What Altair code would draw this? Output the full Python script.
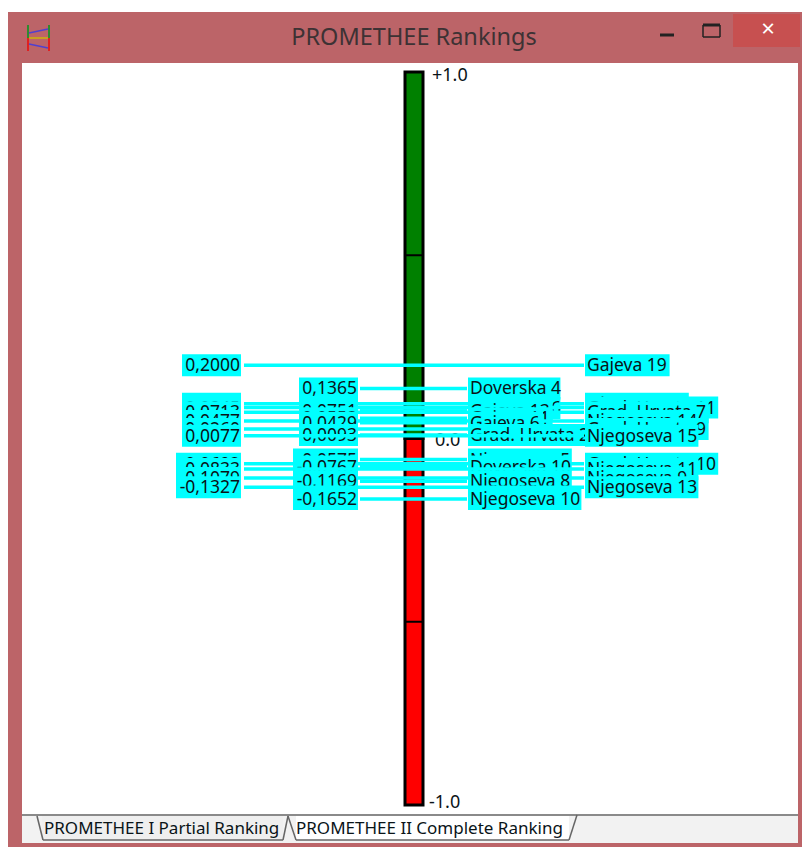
import altair as alt
import pandas as pd

names = ["Gajeva 19", "Doverska 4", "Njegoseva 1", "Doverska 6", "Grad. Hrvata 11", "Gajeva 13",
         "Grad. Hrvata 7", "Gajeva 11", "Njegoseva 14", "Gajeva 6", "Grad. Hrvata 9", "Grad. Hrvata 2",
         "Njegoseva 15", "Njegoseva 5", "Grad. Hrvata 10", "Doverska 10", "Njegoseva 11",
         "Njegoseva 9", "Njegoseva 8", "Njegoseva 13", "Njegoseva 10"]
values = [0.2000, 0.1365, 0.0945, 0.0832, 0.0845, 0.0751,
          0.0713, 0.0553, 0.0477, 0.0429, 0.0260, 0.0093,
          0.0077, -0.0575, -0.0692, -0.0767, -0.0833,
          -0.1079, -0.1169, -0.1327, -0.1652]
columns = ["outer", "inner", "outer", "inner", "outer", "inner",
           "outer", "inner", "outer", "inner", "outer", "inner",
           "outer", "inner", "outer", "inner", "outer",
           "outer", "inner", "outer", "inner"]
bar_top = [1.0, 0.0]
bar_bottom = [0.0, -1.0]
bar_colors = ["#008000", "#FF0000"]
bar_ticks = [0.5, -0.5]
scale_values = [1.0, 0.0, -1.0]
scale_texts = ["+1.0", "0.0", "-1.0"]

FRAME = "#BC6468"
CYAN = "#00FFFF"
INK = "#0A1418"
FONT = "Noto Sans"
one = alt.Data(values=[{"a": 1}])
Y = alt.Y("v:Q", scale=alt.Scale(domain=[-1, 1], range=[797, 64]), axis=None)


def px(x):
    return alt.value(x - 8)


def py(y):
    return alt.value(y - 8)


def box(x1, y1, x2, y2, color):
    return alt.Chart(one).mark_rect(color=color).encode(x=px(x1), x2=px(x2), y=py(y1), y2=py(y2))


def seg(x1, y1, x2, y2, color, w=1.5):
    return alt.Chart(one).mark_rule(color=color, strokeWidth=w).encode(x=px(x1), x2=px(x2), y=py(y1), y2=py(y2))


def label(text, x, y, size=17.5, color=INK, align="left", font=FONT):
    return alt.Chart(one).mark_text(text=text, fontSize=size, color=color, align=align,
                                    baseline="middle", font=font).encode(x=px(x), y=py(y))


def hrule(df, x1, x2, color, w):
    return alt.Chart(df).mark_rule(color=color, strokeWidth=w, strokeCap="butt").encode(
        x=px(x1), x2=px(x2), y=Y)


def text_width(name):
    return 9.6 * len(name) - 1.8 * sum(name.count(c) for c in ". rt")


layers = [
    box(8, 12, 802, 847, FRAME),
    box(733, 14, 800, 47, "#C75050"),
    box(22, 63, 798, 815, "#FFFFFF"),
    box(22, 815, 798, 843, "#F2F2F2"),
    # title bar
    label("PROMETHEE Rankings", 414, 38, size=23.5, color="#3D3234", align="center"),
    seg(660, 35, 674, 35, "#222222", 3),
    seg(703, 25, 720, 25, "#222222", 3),
    seg(703, 37, 720, 37, "#222222", 1.5),
    seg(703, 25, 703, 37, "#222222", 1.5),
    seg(720, 25, 720, 37, "#222222", 1.5),
    label("×", 768, 30, size=24, color="#FFFFFF", align="center"),
    # icon
    seg(28, 25, 28, 38, "#2E8B2E", 2),
    seg(49, 25, 49, 38, "#2E8B2E", 2),
    seg(28, 38, 28, 51, "#E02020", 2),
    seg(49, 38, 49, 51, "#E02020", 2),
    seg(29, 33, 48, 29, "#5040D0", 1.5),
    seg(29, 38, 48, 38, "#C9A020", 2),
    seg(29, 44, 48, 48, "#5040D0", 1.5),
    # tabs
    seg(22, 815, 798, 815, "#8A8A8A", 2),
    box(42, 816, 283, 840, "#EFEFEF"),
    box(296, 816, 569, 840, "#FFFFFF"),
    seg(37, 816, 43, 840, "#666666"),
    seg(43, 840, 283, 840, "#666666"),
    seg(283, 840, 288, 816, "#666666"),
    seg(288, 816, 296, 840, "#666666"),
    seg(296, 840, 569, 840, "#666666"),
    seg(569, 840, 577, 815, "#666666"),
    label("PROMETHEE I Partial Ranking", 44, 829, size=17),
    label("PROMETHEE II Complete Ranking", 296, 829, size=17),
]

# the bar
bar_df = pd.DataFrame({"v": bar_top, "v2": bar_bottom, "c": bar_colors})
layers.append(
    alt.Chart(bar_df).mark_rect(stroke="#000000", strokeWidth=3).encode(
        x=px(405), x2=px(423), y=Y, y2="v2:Q",
        color=alt.Color("c:N", scale=None))
)
layers.append(hrule(pd.DataFrame({"v": bar_ticks}), 404, 424, "#000000", 2))
for val, txt in zip(scale_values, scale_texts):
    dy = {"+1.0": 4, "0.0": 2, "-1.0": -2}[txt]
    x = {"+1.0": 432, "0.0": 435, "-1.0": 429}[txt]
    layers.append(
        alt.Chart(pd.DataFrame({"v": [val]})).mark_text(
            text=txt, fontSize=18, color=INK, align="left", baseline="middle", font=FONT, dy=dy
        ).encode(x=px(x), y=Y)
    )

# the rows, painted top to bottom so later ones cover earlier ones
for name, val, col in zip(names, values, columns):
    df = pd.DataFrame({"v": [val]})
    vtxt = f"{val:.4f}".replace(".", ",")
    vw = 59 + (6 if val < 0 else 0)
    nw = text_width(name)
    if col == "outer":
        vr, line1, line2, nl = 241, 244, 584, 585
    else:
        vr, line1, line2, nl = 358, 360, 467, 468
    layers += [
        hrule(df, vr - vw, vr, CYAN, 22),
        alt.Chart(df).mark_text(text=vtxt, fontSize=17.5, color=INK, align="right", baseline="middle", font=FONT, dy=1
                                ).encode(x=px(vr - 1), y=Y),
        hrule(df, nl, nl + nw, CYAN, 22),
        alt.Chart(df).mark_text(text=name, fontSize=17.5, color=INK, align="left", baseline="middle", font=FONT, dy=1
                                ).encode(x=px(nl + 2), y=Y),
        hrule(df, line1, line2, CYAN, 3.5),
    ]

chart = alt.layer(*layers).properties(
    width=794, height=839, padding=0, autosize=alt.AutoSizeParams(type="none"), background="#FFFFFF"
).configure_view(stroke=None)

chart.save("out.html", embed_options={"renderer": "svg", "actions": False})
